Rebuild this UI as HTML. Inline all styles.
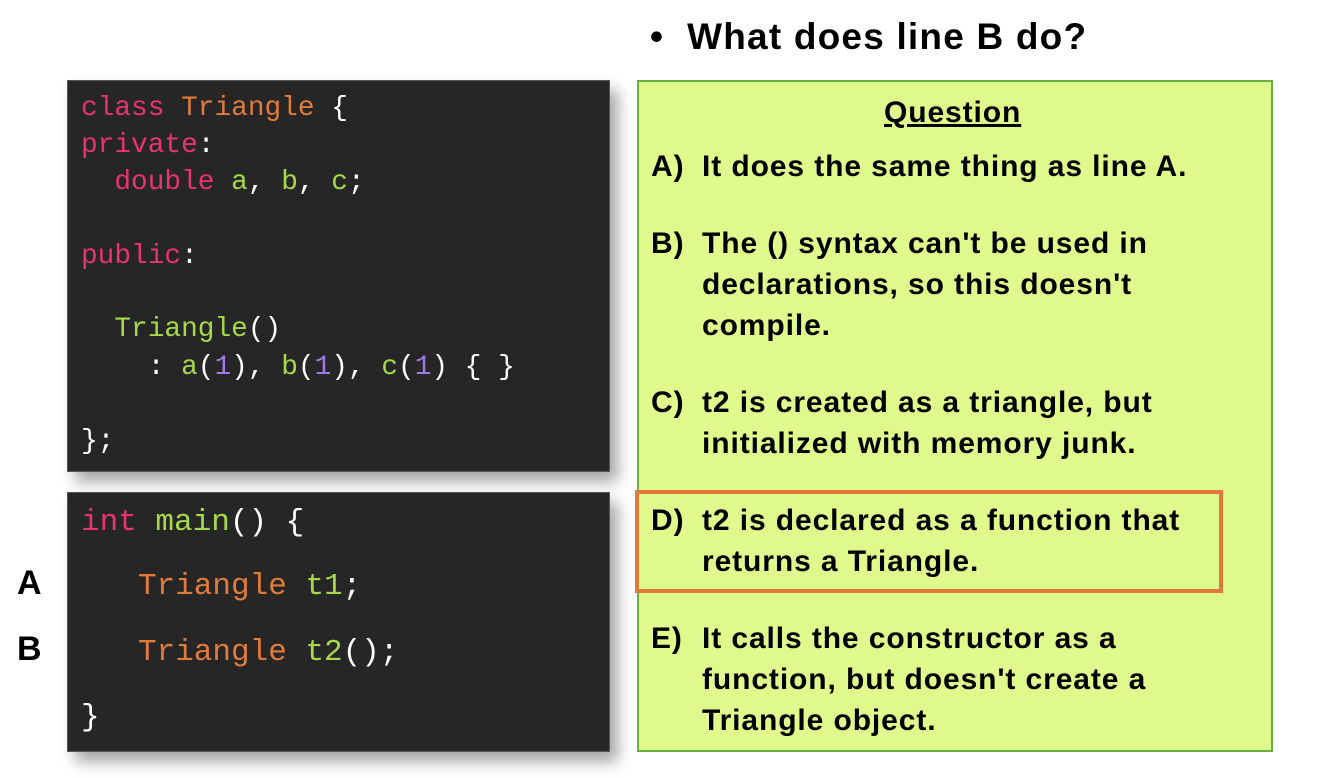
<!DOCTYPE html>
<html><head><style>
body{margin:0;width:1330px;height:778px;background:#fff;position:relative;overflow:hidden;font-family:"Liberation Sans",sans-serif}
.code{position:absolute;left:67px;width:543px;background:#262626;box-shadow:8px 10px 14px rgba(0,0,0,.35);border:1px solid #555;box-sizing:border-box;font-family:"Liberation Mono",monospace;font-size:27.8px;color:#fff;white-space:pre}
.code div{position:absolute;left:13px;line-height:37px}
.k{color:#e8336e}.o{color:#e07b3b}.g{color:#a6d84a}.p{color:#9f7be8}
.t{position:absolute;font-weight:bold;color:#000;font-size:30px;line-height:41px;white-space:nowrap;letter-spacing:0.9px}
.L{position:absolute;font-weight:bold;font-size:34px}
</style></head><body>
<div class="L" style="left:650px;top:16px;font-size:37px;letter-spacing:1.2px">•&nbsp; What does line B do?</div>
<div class="code" style="top:80px;height:392px">
<div style="top:9px"><span class="k">class</span> <span class="o">Triangle</span> {</div>
<div style="top:46px"><span class="k">private</span>:</div>
<div style="top:83px">  <span class="k">double</span> <span class="g">a</span>, <span class="g">b</span>, <span class="g">c</span>;</div>
<div style="top:157px"><span class="k">public</span>:</div>
<div style="top:230px">  <span class="g">Triangle</span>()</div>
<div style="top:268px">    : <span class="g">a</span>(<span class="p">1</span>), <span class="g">b</span>(<span class="p">1</span>), <span class="g">c</span>(<span class="p">1</span>) { }</div>
<div style="top:342px">};</div>
</div>
<div class="code" style="top:492px;height:260px;font-size:31px">
<div style="top:11px"><span class="k">int</span> <span class="g">main</span>() {</div>
<div style="top:75px;left:70px"><span class="o">Triangle</span> <span class="g">t1</span>;</div>
<div style="top:141px;left:70px"><span class="o">Triangle</span> <span class="g">t2</span>();</div>
<div style="top:206px">}</div>
</div>
<div class="L" style="left:17px;top:564px">A</div>
<div class="L" style="left:17px;top:630px">B</div>
<div style="position:absolute;left:637px;top:80px;width:636px;height:672px;background:#e0f98c;border:2px solid #6aaf3d;box-sizing:border-box"></div>
<div style="position:absolute;left:635px;top:490px;width:588px;height:103px;border:4px solid #e07a3c;box-sizing:border-box"></div>
<div class="t" style="left:884px;top:92px;text-decoration:underline">Question</div>
<div class="t" style="left:651px;top:146px">A)</div><div class="t" style="left:702px;top:146px">It does the same thing as line A.</div>
<div class="t" style="left:651px;top:223px">B)</div><div class="t" style="left:702px;top:223px">The () syntax can't be used in<br>declarations, so this doesn't<br>compile.</div>
<div class="t" style="left:651px;top:382px">C)</div><div class="t" style="left:702px;top:382px">t2 is created as a triangle, but<br>initialized with memory junk.</div>
<div class="t" style="left:651px;top:500px">D)</div><div class="t" style="left:702px;top:500px">t2 is declared as a function that<br>returns a Triangle.</div>
<div class="t" style="left:651px;top:618px">E)</div><div class="t" style="left:702px;top:618px">It calls the constructor as a<br>function, but doesn't create a<br>Triangle object.</div>
</body></html>
